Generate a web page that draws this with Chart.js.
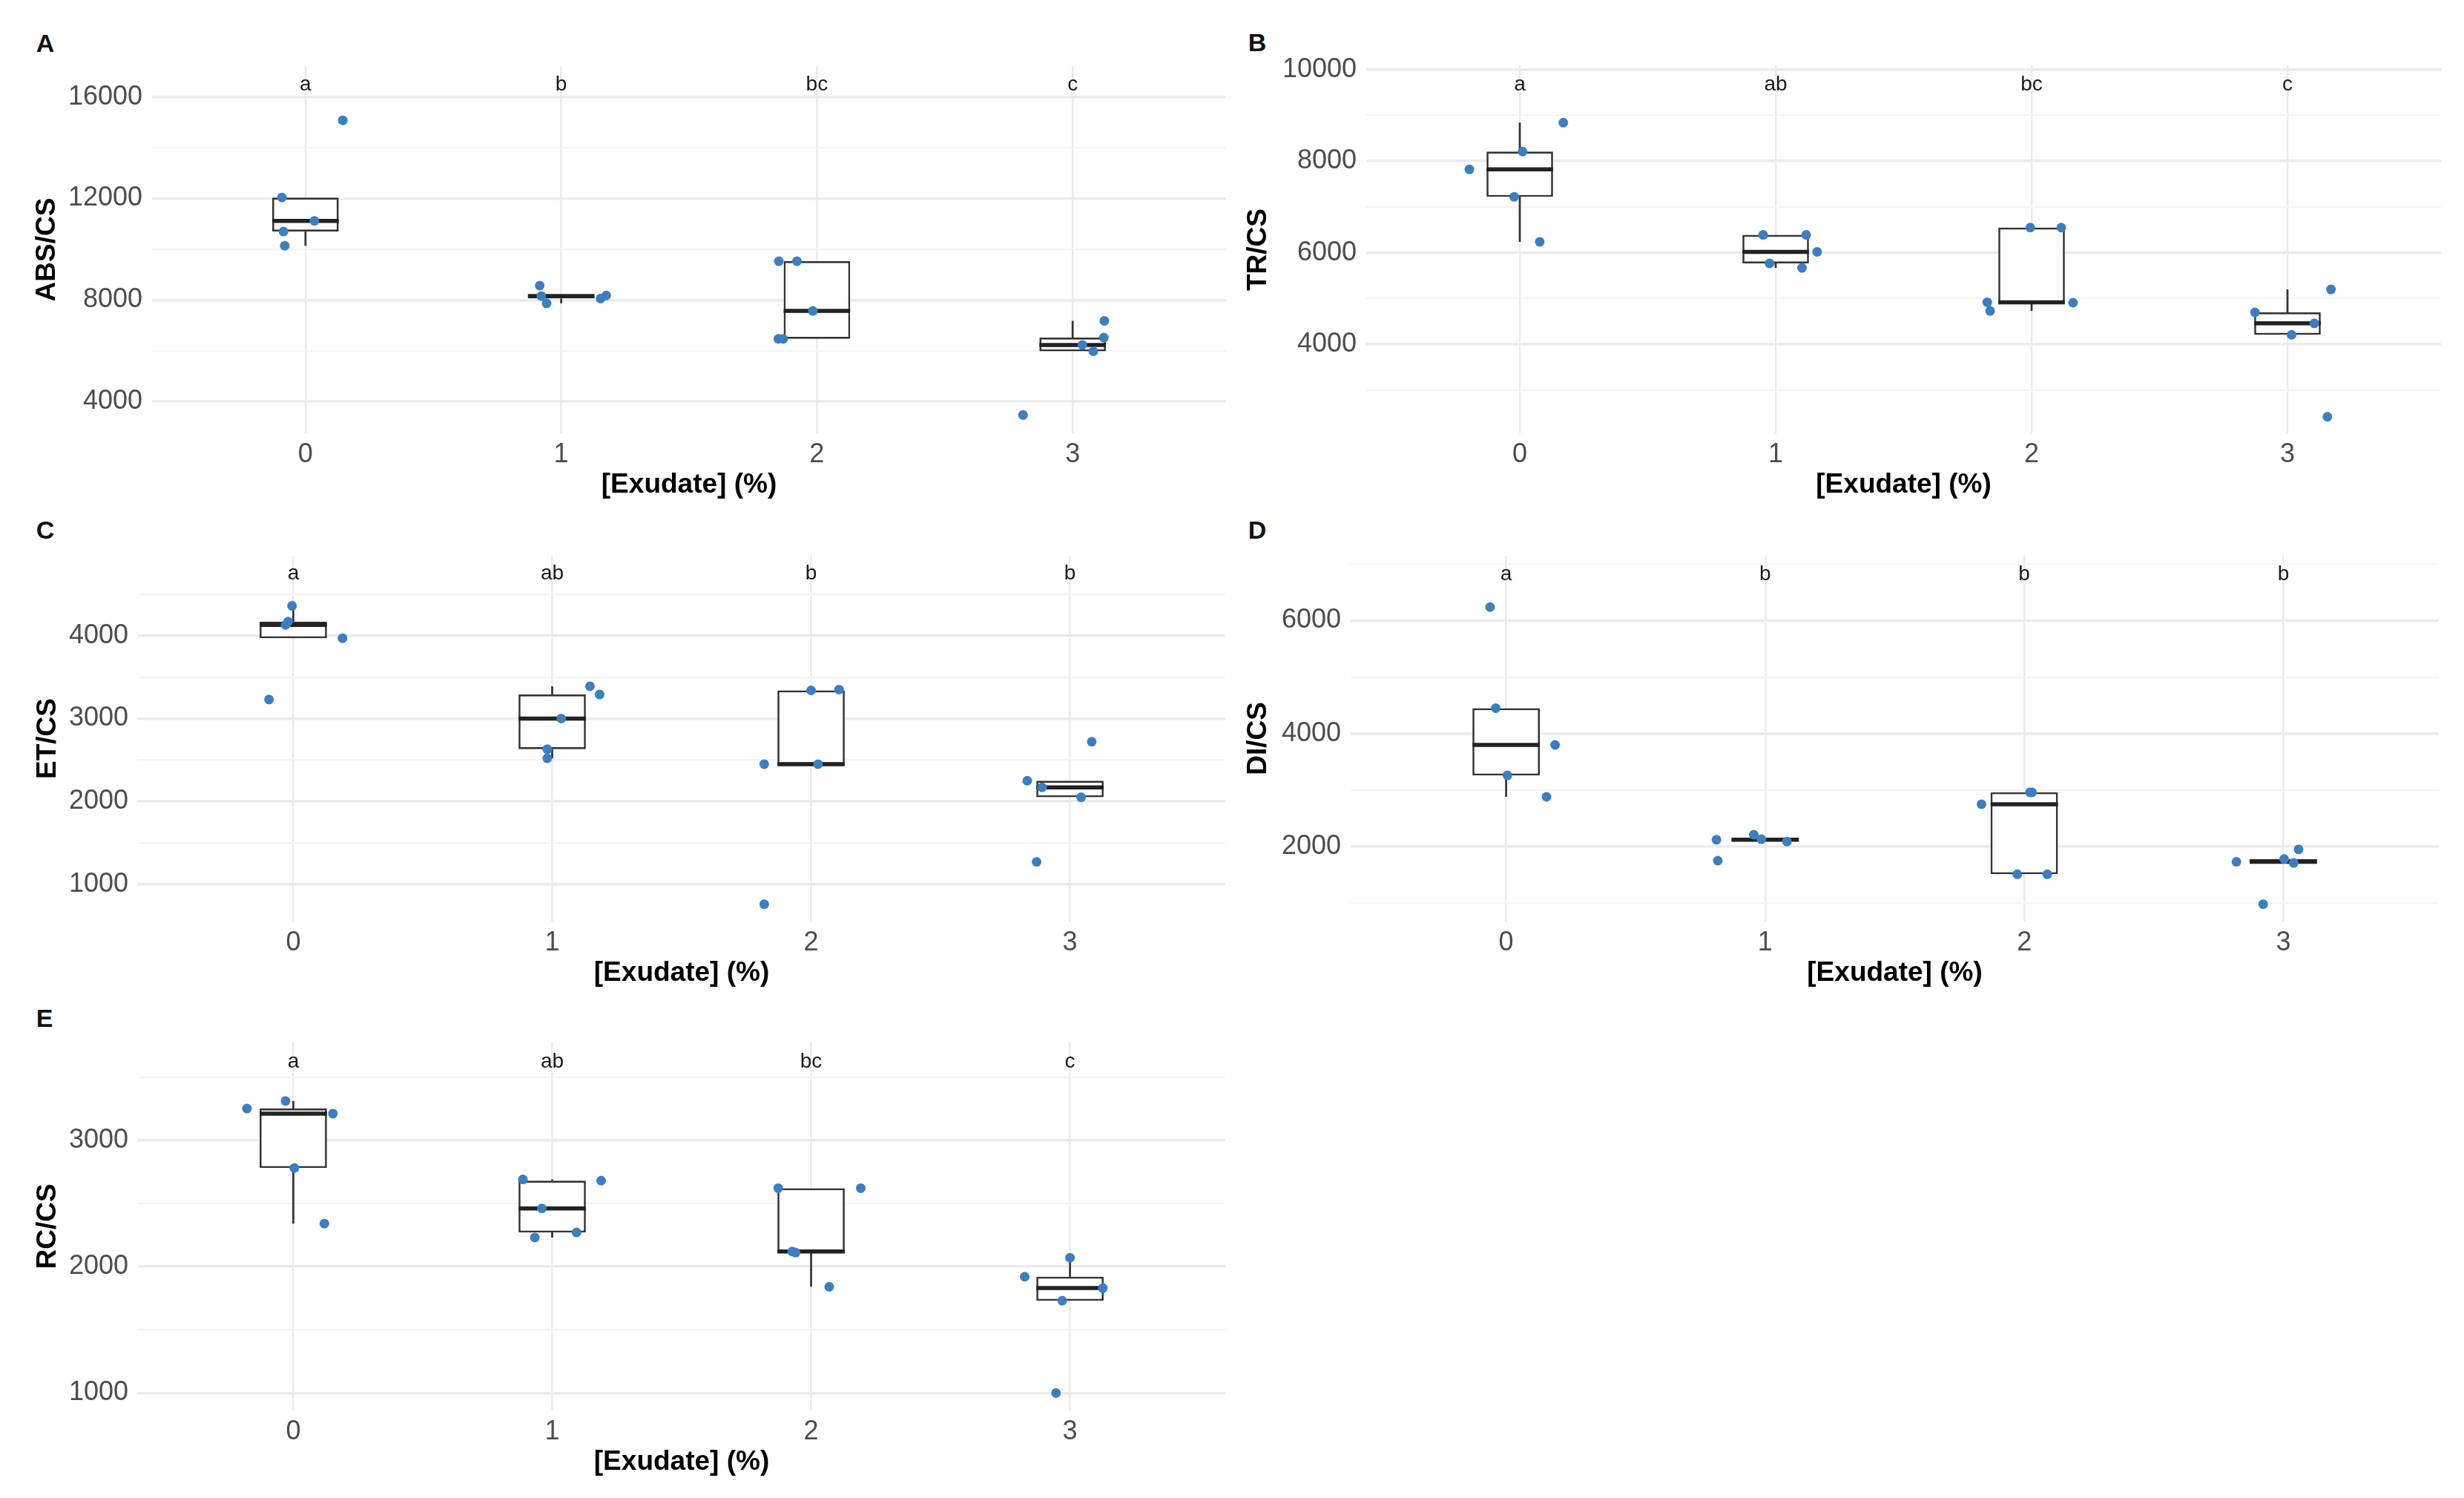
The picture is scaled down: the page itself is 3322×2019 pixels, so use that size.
<!DOCTYPE html>
<html>
<head>
<meta charset="utf-8">
<script src="https://cdn.jsdelivr.net/npm/chart.js@4.4.1/dist/chart.umd.min.js"></script>
<style>
html, body { margin: 0; padding: 0; background: #fff; }
body { width: 3322px; height: 2019px; position: relative; overflow: hidden; font-family: 'Liberation Sans', Arial, sans-serif; }
canvas { position: absolute; }
.tag { position: absolute; font-weight: bold; font-size: 34px; line-height: 34px; color: #111; transform: translate(-50%, -50%); }
</style>
</head>
<body>
<div class="tag" style="left:61px;top:58px">A</div>
<div class="tag" style="left:1695px;top:57px">B</div>
<div class="tag" style="left:61px;top:714px">C</div>
<div class="tag" style="left:1695px;top:714px">D</div>
<div class="tag" style="left:60px;top:1372px">E</div>
<canvas id="graficoA"></canvas>
<canvas id="graficoB"></canvas>
<canvas id="graficoC"></canvas>
<canvas id="graficoD"></canvas>
<canvas id="graficoE"></canvas>
<script>
// Categorias do eixo x
const exudate = [0, 1, 2, 3];

// Painel A - ABS/CS
const absValues = [[15080, 12040, 11120, 10700, 10140], [8570, 8160, 7870, 8060, 8180], [9530, 9530, 7570, 6470, 6470], [7180, 6520, 6230, 5980, 3470]];
const absJitter = [[0.146, -0.092, 0.035, -0.086, -0.081], [-0.084, -0.078, -0.057, 0.154, 0.176], [-0.149, -0.078, -0.016, -0.151, -0.132], [0.124, 0.122, 0.038, 0.081, -0.194]];
const absLow = [10140, 7870, 6470, 5980];
const absQ1 = [10700, 8060, 6470, 5980];
const absMedian = [11120, 8160, 7570, 6230];
const absQ3 = [12040, 8180, 9530, 6520];
const absHigh = [12040, 8180, 9530, 7180];
const absLetters = ['a', 'b', 'bc', 'c'];
const absTicks = [4000, 6000, 8000, 10000, 12000, 14000, 16000];

// Painel B - TR/CS
const trValues = [[8840, 8210, 7820, 7220, 6240], [6390, 6390, 6020, 5770, 5670], [6550, 6550, 4920, 4730, 4910], [5200, 4700, 4460, 4210, 2420]];
const trJitter = [[0.17, 0.011, -0.197, -0.022, 0.078], [-0.049, 0.119, 0.162, -0.024, 0.103], [-0.005, 0.116, -0.173, -0.162, 0.162], [0.17, -0.127, 0.105, 0.016, 0.156]];
const trLow = [6240, 5670, 4730, 4210];
const trQ1 = [7220, 5770, 4910, 4210];
const trMedian = [7820, 6020, 4920, 4460];
const trQ3 = [8210, 6390, 6550, 4700];
const trHigh = [8840, 6390, 6550, 5200];
const trLetters = ['a', 'ab', 'bc', 'c'];
const trTicks = [3000, 4000, 5000, 6000, 7000, 8000, 9000, 10000];

// Painel C - ET/CS
const etValues = [[4360, 4170, 4130, 3970, 3230], [3390, 3290, 3000, 2630, 2520], [3340, 3350, 2450, 2450, 760], [2720, 2250, 2170, 2050, 1270]];
const etJitter = [[-0.005, -0.02, -0.03, 0.19, -0.094], [0.146, 0.183, 0.035, -0.019, -0.019], [0, 0.108, -0.181, 0.027, -0.181], [0.084, -0.165, -0.108, 0.043, -0.129]];
const etLow = [3970, 2520, 2450, 2050];
const etQ1 = [3970, 2630, 2450, 2050];
const etMedian = [4130, 3000, 2450, 2170];
const etQ3 = [4170, 3290, 3340, 2250];
const etHigh = [4360, 3390, 3350, 2250];
const etLetters = ['a', 'ab', 'b', 'b'];
const etTicks = [1000, 1500, 2000, 2500, 3000, 3500, 4000, 4500];

// Painel D - DI/CS
const diValues = [[6240, 4450, 3800, 3260, 2880], [2120, 1750, 2210, 2130, 2090], [2960, 2960, 2750, 1510, 1510], [1950, 1780, 1710, 1730, 980]];
const diJitter = [[-0.062, -0.04, 0.189, 0.005, 0.156], [-0.188, -0.183, -0.044, -0.015, 0.084], [0.022, 0.03, -0.165, -0.027, 0.089], [0.059, 0.003, 0.04, -0.181, -0.078]];
const diLow = [2880, 2090, 1510, 1710];
const diQ1 = [3260, 2090, 1510, 1710];
const diMedian = [3800, 2120, 2750, 1730];
const diQ3 = [4450, 2130, 2960, 1780];
const diHigh = [4450, 2130, 2960, 1780];
const diLetters = ['a', 'b', 'b', 'b'];
const diTicks = [1000, 2000, 3000, 4000, 5000, 6000, 7000];

// Painel E - RC/CS
const rcValues = [[3250, 3310, 3210, 2780, 2340], [2690, 2680, 2460, 2230, 2270], [2620, 2620, 2120, 2110, 1840], [2070, 1920, 1830, 1730, 1000]];
const rcJitter = [[-0.179, -0.03, 0.153, 0.004, 0.12], [-0.113, 0.189, -0.04, -0.067, 0.094], [-0.127, 0.192, -0.073, -0.06, 0.07], [0, -0.175, 0.127, -0.03, -0.054]];
const rcLow = [2340, 2230, 1840, 1730];
const rcQ1 = [2780, 2270, 2110, 1730];
const rcMedian = [3210, 2460, 2120, 1830];
const rcQ3 = [3250, 2680, 2620, 1920];
const rcHigh = [3310, 2690, 2620, 2070];
const rcLetters = ['a', 'ab', 'bc', 'c'];
const rcTicks = [1000, 1500, 2000, 2500, 3000, 3500];

Chart.defaults.font.family = "'Liberation Sans', Arial, sans-serif";

// Função para desenhar um painel (boxplot + pontos)
function desenharPainel(p) {
    const canvas = document.getElementById(p.id);
    canvas.width = p.w;
    canvas.height = p.h;
    canvas.style.left = p.left + 'px';
    canvas.style.top = p.top + 'px';

    const pontos = [];
    p.values.forEach((grupo, i) => {
        grupo.forEach((v, k) => pontos.push({ x: exudate[i] + p.jitter[i][k], y: v }));
    });
    const caixas = exudate.map((c, i) => ({ x: c, y: [p.q1[i], p.q3[i]] }));

    // bigodes, mediana e letras
    const extras = {
        id: 'extras' + p.id,
        afterDatasetDraw(chart, args) {
            if (args.index !== 1) return;
            const ctx = chart.ctx;
            const y = chart.scales.y;
            const barras = chart.getDatasetMeta(1).data;
            ctx.save();
            barras.forEach((bar, i) => {
                ctx.strokeStyle = '#333333';
                ctx.lineWidth = 2.7;
                ctx.beginPath();
                ctx.moveTo(bar.x, y.getPixelForValue(p.q3[i]));
                ctx.lineTo(bar.x, y.getPixelForValue(p.high[i]));
                ctx.moveTo(bar.x, y.getPixelForValue(p.q1[i]));
                ctx.lineTo(bar.x, y.getPixelForValue(p.low[i]));
                ctx.stroke();
                ctx.strokeStyle = '#222222';
                ctx.lineWidth = 5.5;
                ctx.beginPath();
                ctx.moveTo(bar.x - bar.width / 2, y.getPixelForValue(p.median[i]));
                ctx.lineTo(bar.x + bar.width / 2, y.getPixelForValue(p.median[i]));
                ctx.stroke();
            });
            ctx.restore();
        },
        afterDraw(chart) {
            const ctx = chart.ctx;
            const x = chart.scales.x;
            const y = chart.scales.y;
            ctx.save();
            ctx.font = "28px 'Liberation Sans', Arial, sans-serif";
            ctx.fillStyle = '#1a1a1a';
            ctx.textAlign = 'center';
            ctx.textBaseline = 'middle';
            exudate.forEach((c, i) => {
                ctx.fillText(p.letters[i], x.getPixelForValue(c), y.getPixelForValue(p.letterY));
            });
            ctx.restore();
        }
    };

    new Chart(canvas, {
        type: 'scatter',
        data: {
            datasets: [{
                type: 'scatter',
                data: pontos,
                backgroundColor: '#3b7fc0',
                borderWidth: 0,
                pointRadius: 6.5,
                pointHoverRadius: 6.5
            }, {
                type: 'bar',
                data: caixas,
                backgroundColor: '#ffffff',
                borderColor: '#333333',
                borderWidth: 2.7,
                borderSkipped: false,
                barPercentage: 0.26,
                categoryPercentage: 1
            }]
        },
        options: {
            responsive: false,
            animation: false,
            events: [],
            layout: { padding: { top: 40, right: p.padRight, bottom: 10, left: 0 } },
            plugins: { legend: { display: false }, tooltip: { enabled: false } },
            scales: {
                x: {
                    type: 'linear',
                    min: -0.6,
                    max: 3.6,
                    offset: false,
                    afterBuildTicks: (s) => { s.ticks = exudate.map((v) => ({ value: v })); },
                    afterFit: (s) => { s.height = 100; },
                    ticks: { padding: 7, color: '#4d4d4d', font: { size: 36 }, callback: (v) => String(v) },
                    grid: { offset: false, color: '#ebebeb', lineWidth: 2.5, drawTicks: false },
                    border: { display: false },
                    title: { display: true, text: '[Exudate] (%)', color: '#000', font: { size: 37, weight: 'bold' }, padding: { top: 0, bottom: 8 } }
                },
                y: {
                    type: 'linear',
                    min: p.yMin,
                    max: p.yMax,
                    afterBuildTicks: (s) => { s.ticks = p.ticks.map((v) => ({ value: v })); },
                    afterFit: (s) => { s.width = p.yWidth; },
                    ticks: {
                        autoSkip: false,
                        padding: 13,
                        color: '#4d4d4d',
                        font: { size: 36 },
                        callback: (v) => (v % p.labelStep === 0 ? String(v) : '')
                    },
                    grid: {
                        color: (c) => (c.tick && c.tick.value % p.labelStep === 0 ? '#ebebeb' : '#f3f3f3'),
                        lineWidth: (c) => (c.tick && c.tick.value % p.labelStep === 0 ? 3.5 : 2),
                        drawTicks: false
                    },
                    border: { display: false },
                    title: { display: true, text: p.title, color: '#000', font: { size: 37, weight: 'bold' }, padding: { top: 22, bottom: 0 } }
                }
            }
        },
        plugins: [extras]
    });
}

window.onload = function() {
    desenharPainel({ id: 'graficoA', left: 20, top: 49, w: 1660, h: 645, yWidth: 185, padRight: 27,
        title: 'ABS/CS', values: absValues, jitter: absJitter, low: absLow, q1: absQ1, median: absMedian, q3: absQ3, high: absHigh,
        letters: absLetters, letterY: 16490, yMin: 2750, yMax: 17220, ticks: absTicks, labelStep: 4000 });
    desenharPainel({ id: 'graficoB', left: 1653, top: 49, w: 1669, h: 645, yWidth: 189, padRight: 31,
        title: 'TR/CS', values: trValues, jitter: trJitter, low: trLow, q1: trQ1, median: trMedian, q3: trQ3, high: trHigh,
        letters: trLetters, letterY: 9660, yMin: 2060, yMax: 10076, ticks: trTicks, labelStep: 2000 });
    desenharPainel({ id: 'graficoC', left: 21, top: 709, w: 1659, h: 643, yWidth: 165, padRight: 28,
        title: 'ET/CS', values: etValues, jitter: etJitter, low: etLow, q1: etQ1, median: etMedian, q3: etQ3, high: etHigh,
        letters: etLetters, letterY: 4745, yMin: 551, yMax: 4965, ticks: etTicks, labelStep: 1000 });
    desenharPainel({ id: 'graficoD', left: 1653, top: 709, w: 1669, h: 643, yWidth: 168, padRight: 34,
        title: 'DI/CS', values: diValues, jitter: diJitter, low: diLow, q1: diQ1, median: diMedian, q3: diQ3, high: diHigh,
        letters: diLetters, letterY: 6820, yMin: 673, yMax: 7150, ticks: diTicks, labelStep: 2000 });
    desenharPainel({ id: 'graficoE', left: 21, top: 1365, w: 1659, h: 646, yWidth: 165, padRight: 28,
        title: 'RC/CS', values: rcValues, jitter: rcJitter, low: rcLow, q1: rcQ1, median: rcMedian, q3: rcQ3, high: rcHigh,
        letters: rcLetters, letterY: 3620, yMin: 862, yMax: 3773, ticks: rcTicks, labelStep: 1000 });
};
</script>
</body>
</html>
